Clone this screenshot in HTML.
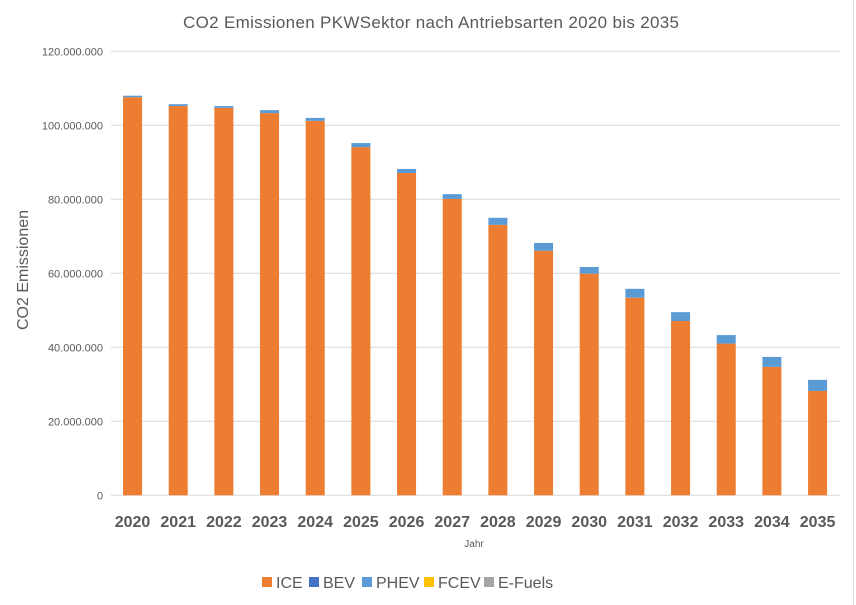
<!DOCTYPE html>
<html><head><meta charset="utf-8"><style>
body{margin:0;background:#fff;}
svg{display:block;font-family:"Liberation Sans",sans-serif;}
</style></head><body>
<svg id="chart" width="856" height="605">
<line x1="853.5" y1="0" x2="853.5" y2="605" stroke="#d9d9d9"/>
<text x="431" y="28" text-anchor="middle" font-size="17" fill="#595959" textLength="496">CO2 Emissionen PKWSektor nach Antriebsarten 2020 bis 2035</text>
<text transform="translate(28,270) rotate(-90)" text-anchor="middle" font-size="16" fill="#595959">CO2 Emissionen</text>
<text x="474" y="547" text-anchor="middle" font-size="10" fill="#595959">Jahr</text>
<g id="grid"></g><g id="bars"></g><g id="xl"></g>
<g id="legend" font-size="16" fill="#595959"></g>
</svg>
<script>
const years=["2020","2021","2022","2023","2024","2025","2026","2027","2028","2029","2030","2031","2032","2033","2034","2035"];
const ice=[107.6,105.2,104.7,103.3,101.2,94.1,87.1,80.1,73.1,66.1,59.9,53.4,47.1,41.0,34.7,28.2];
const bev=[0,0,0,0,0,0,0,0,0,0,0,0,0,0,0,0];
const phev=[0.4,0.5,0.5,0.8,0.8,1.1,1.1,1.3,1.9,2.1,1.8,2.4,2.4,2.3,2.7,3.0];
const fcev=[0,0,0,0,0,0,0,0,0,0,0,0,0,0,0,0];
const efuels=[0,0,0,0,0,0,0,0,0,0,0,0,0,0,0,0];
const yTicks=[0,20,40,60,80,100,120];
const yTickLabels=["0","20.000.000","40.000.000","60.000.000","80.000.000","100.000.000","120.000.000"];
const seriesNames=["ICE","BEV","PHEV","FCEV","E-Fuels"];
const seriesColors=["#ed7d31","#4472c4","#5b9bd5","#ffc000","#a5a5a5"];
const NS="http://www.w3.org/2000/svg";
const L=109.7,R=840.4,Y0=495.3,Y1=51.3;
const y=v=>Y0-(v/120)*(Y0-Y1);
const step=(R-L)/years.length;
const x=i=>L+step*(i+0.5);
const bw=19;
function mk(t,a,p){const e=document.createElementNS(NS,t);for(const k in a)e.setAttribute(k,a[k]);p.appendChild(e);return e;}
const grid=document.getElementById('grid');
yTicks.forEach((t,i)=>{
  const ln=mk('line',{x1:111,x2:840,y1:y(t),y2:y(t),stroke:'#d9d9d9','stroke-width':1},grid);
  
  
  const tx=mk('text',{x:103,y:y(t)+4,'text-anchor':'end','font-size':11,fill:'#595959'},grid);
  tx.textContent=yTickLabels[i];
  
  
});
const bars=document.getElementById('bars');
const series=[ice,bev,phev,fcev,efuels];
years.forEach((yr,i)=>{
  let acc=0;
  series.forEach((s,k)=>{
    const v=s[i]; if(v<=0) return;
    const r=mk('rect',{x:x(i)-bw/2,y:y(acc+v),width:bw,height:y(acc)-y(acc+v),fill:seriesColors[k]},bars);
    
    
    acc+=v;
  });
  const t=mk('text',{x:x(i),y:527,'text-anchor':'middle','font-size':16,'font-weight':'bold',fill:'#595959'},document.getElementById('xl'));
  t.textContent=yr;
  
  
});
const lg=document.getElementById('legend');
const lx=[262,309,362,424,484];
seriesNames.forEach((n,k)=>{
  const r=mk('rect',{x:lx[k],y:577,width:10,height:10,fill:seriesColors[k]},lg);
  
  
  const t=mk('text',{x:lx[k]+14,y:588},lg);
  t.textContent=n;
  
  
});
</script>
</body></html>
